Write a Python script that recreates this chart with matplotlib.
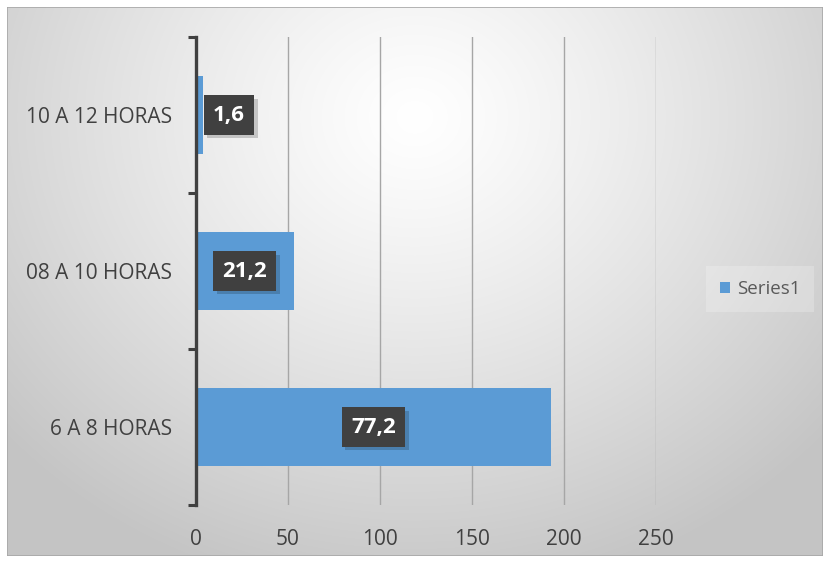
import numpy as np
import matplotlib
matplotlib.use("Agg")
import matplotlib.pyplot as plt
import matplotlib.patheffects as pe
from matplotlib.patches import Rectangle, Patch

categories = ["6 A 8 HORAS", "08 A 10 HORAS", "10 A 12 HORAS"]
values = [193, 53, 4]
labels = ["77,2", "21,2", "1,6"]
xticks = [0, 50, 100, 150, 200, 250]
series_name = "Series1"

plt.rcParams['font.family'] = ['Open Sans', 'DejaVu Sans']

W, H = 823, 563
fig = plt.figure(figsize=(W / 100, H / 100), dpi=100)
fig.patch.set_facecolor("white")

# background gradient panel
bx0, by0, bx1, by1 = 7, 7, 823, 556
bg = fig.add_axes([bx0 / W, 1 - by1 / H, (bx1 - bx0) / W, (by1 - by0) / H], zorder=-10)
ny, nx = 300, 450
yy, xx = np.mgrid[0:1:ny * 1j, 0:1:nx * 1j]
cx, cy = 0.50, 0.20
r = np.sqrt(((xx - cx) / 0.72) ** 2 + ((yy - cy) / 0.95) ** 2)
lum = 1.0 - 0.25 * np.clip(r, 0, 1.2) ** 1.2
lum = np.clip(lum, 0.77, 1.0)
img = np.dstack([lum, lum, lum])
bg.imshow(img, aspect="auto", extent=[0, 1, 1, 0], interpolation="bilinear")
bg.set_xlim(0, 1)
bg.set_ylim(1, 0)
bg.axis("off")
bg.add_patch(Rectangle((0, 0), 1, 1, transform=bg.transAxes, fill=False,
                       edgecolor="#a8a8a8", linewidth=1.2))

ax = fig.add_axes([196 / W, 1 - 505 / H, (656 - 196) / W, (505 - 37) / H])
ax.set_facecolor("none")
ypos = np.arange(len(categories))
ax.barh(ypos, values, height=0.5, color="#5B9BD5", zorder=3)
ax.set_xlim(0, 250)
ax.set_ylim(-0.5, len(categories) - 0.5)
ax.set_xticks(xticks)
ax.set_xticklabels([str(t) for t in xticks], fontsize=15, color="#404040")
ax.set_yticks(ypos)
ax.set_yticklabels(categories, fontsize=15, color="#404040")
ax.tick_params(axis="x", length=0, pad=17)
ax.tick_params(axis="y", which="major", length=0, pad=17)
ax.set_yticks(np.arange(-0.5, len(categories)), minor=True)
ax.tick_params(axis="y", which="minor", length=6, width=2.2, color="#404040", direction="out")
for s in ["top", "right", "bottom"]:
    ax.spines[s].set_visible(False)
ax.spines["left"].set_color("#404040")
ax.spines["left"].set_linewidth(2.4)
ax.spines["left"].set_zorder(5)
ax.xaxis.grid(True, color="#a6a6a6", linewidth=1.0, zorder=0)
ax.set_axisbelow(True)

px_per_unit = (656 - 196) / 250
for y, v, lab in zip(ypos, values, labels):
    common = dict(va="center", fontsize=16, fontweight="bold", color="white", zorder=6,
                  bbox=dict(boxstyle="square,pad=0.42", facecolor="#404040", edgecolor="none"))
    if v * px_per_unit > 70:
        t = ax.text(v / 2, y, lab, ha="center", **common)
    else:
        t = ax.annotate(lab, (v, y), xytext=(7, 0), textcoords="offset points",
                        ha="left", **common)
    t.get_bbox_patch().set_path_effects([
        pe.SimplePatchShadow(offset=(2.5, -2.5), shadow_rgbFace="black", alpha=0.18),
        pe.Normal()])

# legend
leg = fig.legend(handles=[Patch(facecolor="#5B9BD5", edgecolor="none", label=series_name)],
                 loc="center", bbox_to_anchor=(760 / W, 1 - 289 / H), frameon=True,
                 fontsize=13.5, handlelength=0.55, handleheight=0.55, handletextpad=0.35,
                 borderpad=0.75, fancybox=False)
leg.get_frame().set_facecolor("white")
leg.get_frame().set_alpha(0.22)
leg.get_frame().set_edgecolor("none")
for tx in leg.get_texts():
    tx.set_color("#595959")

fig.savefig("out.png", dpi=100)
